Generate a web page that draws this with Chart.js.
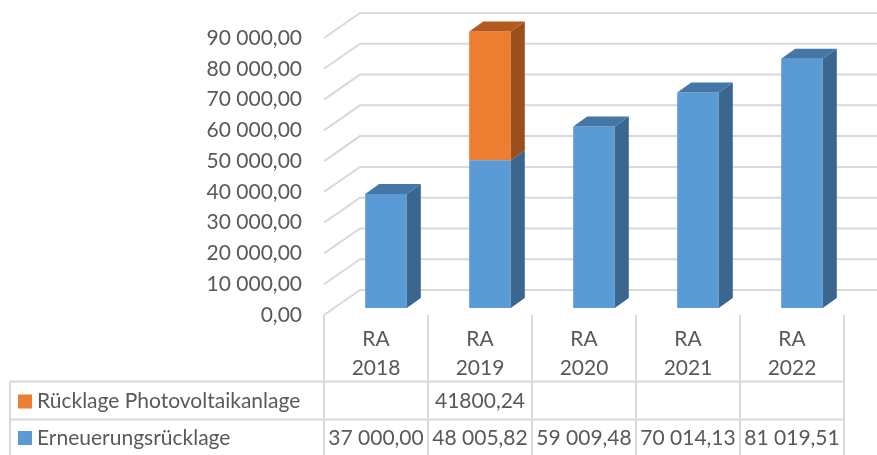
<!DOCTYPE html>
<html>
<head>
<meta charset="utf-8">
<script src="https://cdn.jsdelivr.net/npm/chart.js@4/dist/chart.umd.min.js"></script>
<style>
  body { margin: 0; background: #fff; }
  #wrap { width: 877px; height: 455px; }
</style>
</head>
<body>
<div id="wrap"><canvas id="BarChart" width="877" height="455"></canvas></div>
<script>
// data
const categories = [['RA', '2018'], ['RA', '2019'], ['RA', '2020'], ['RA', '2021'], ['RA', '2022']];
const seriesNames = ['Rücklage Photovoltaikanlage', 'Erneuerungsrücklage'];
const photovoltaik = [null, 41800.24, null, null, null];
const erneuerung = [37000.00, 48005.82, 59009.48, 70014.13, 81019.51];
const yTicks = [0, 10000, 20000, 30000, 40000, 50000, 60000, 70000, 80000, 90000];

const FONT = 'Lato, "Open Sans", sans-serif';
const TEXT = '#595959';
const GRID = '#d9d9d9';
// depth of the 3d walls / bars
const FRONT = { dx: -10, dy: 7 };
const BACK = { dx: 26, dy: -18 };
const BAR_D = { dx: 14, dy: 10 };

function fmt(v, group) {
  let s = v.toFixed(2).replace('.', ',');
  if (!group) return s;
  let parts = s.split(',');
  parts[0] = parts[0].replace(/\B(?=(\d{3})+(?!\d))/g, ' ');
  return parts.join(',');
}

const shades = {
  '#ED7D31': { side: '#9C4F1C', top: '#B55A1F' },
  '#5B9BD5': { side: '#3A6690', top: '#4577A6' }
};

const threeD = {
  id: 'threeD',
  beforeDatasetsDraw(chart) {
    const ctx = chart.ctx;
    const y = chart.scales.y;
    const area = chart.chartArea;
    ctx.save();
    ctx.strokeStyle = GRID;
    ctx.lineWidth = 2;
    yTicks.forEach(v => {
      const py = y.getPixelForValue(v);
      ctx.beginPath();
      ctx.moveTo(area.left + FRONT.dx, py + FRONT.dy);
      ctx.lineTo(area.left + BACK.dx, py + BACK.dy);
      ctx.lineTo(chart.width, py + BACK.dy);
      ctx.stroke();
    });
    ctx.restore();
  },
  afterDatasetsDraw(chart) {
    const ctx = chart.ctx;
    ctx.save();
    const n = categories.length;
    for (let i = 0; i < n; i++) {
      let topDs = -1;
      chart.data.datasets.forEach((ds, d) => { if (ds.data[i] != null) topDs = d; });
      chart.data.datasets.forEach((ds, d) => {
        if (ds.data[i] == null) return;
        const el = chart.getDatasetMeta(d).data[i];
        const l = el.x - el.width / 2, r = el.x + el.width / 2;
        const t = el.y, b = el.base;
        const c = shades[ds.backgroundColor];
        ctx.fillStyle = c.side;
        ctx.beginPath();
        ctx.moveTo(r, t); ctx.lineTo(r + BAR_D.dx, t - BAR_D.dy);
        ctx.lineTo(r + BAR_D.dx, b - BAR_D.dy); ctx.lineTo(r, b);
        ctx.closePath(); ctx.fill();
        if (d === topDs) {
          ctx.fillStyle = c.top;
          ctx.beginPath();
          ctx.moveTo(l, t); ctx.lineTo(l + BAR_D.dx, t - BAR_D.dy);
          ctx.lineTo(r + BAR_D.dx, t - BAR_D.dy); ctx.lineTo(r, t);
          ctx.closePath(); ctx.fill();
        }
      });
    }
    ctx.restore();
  },
  afterDraw(chart) {
    // data table under the x axis
    const ctx = chart.ctx;
    const x = chart.scales.x;
    const area = chart.chartArea;
    const n = categories.length;
    const cw = (x.right - x.left) / n;
    const left = x.left + FRONT.dx;
    const right = x.right + FRONT.dx;
    const floor = area.bottom + FRONT.dy;
    const row1 = 381.5, row2 = 419.5, tableLeft = 10;
    ctx.save();
    ctx.strokeStyle = GRID;
    ctx.lineWidth = 2;
    for (let i = 0; i <= n; i++) {
      const px = left + i * cw;
      ctx.beginPath(); ctx.moveTo(px, floor); ctx.lineTo(px, chart.height); ctx.stroke();
    }
    ctx.beginPath();
    ctx.moveTo(tableLeft, row1); ctx.lineTo(right, row1);
    ctx.moveTo(tableLeft, row2); ctx.lineTo(right, row2);
    ctx.moveTo(tableLeft, row1); ctx.lineTo(tableLeft, chart.height);
    ctx.stroke();

    ctx.font = '21px ' + FONT;
    ctx.fillStyle = TEXT;
    ctx.textBaseline = 'middle';
    const rows = [
      { name: seriesNames[0], color: '#ED7D31', vals: photovoltaik, group: false, cy: 401.5 },
      { name: seriesNames[1], color: '#5B9BD5', vals: erneuerung, group: true, cy: 438 }
    ];
    rows.forEach(row => {
      ctx.fillStyle = row.color;
      ctx.fillRect(18, row.cy - 7, 14, 14);
      ctx.fillStyle = TEXT;
      ctx.textAlign = 'left';
      ctx.fillText(row.name, 37, row.cy);
      ctx.textAlign = 'center';
      row.vals.forEach((v, i) => {
        if (v == null) return;
        ctx.fillText(fmt(v, row.group), left + (i + 0.5) * cw, row.cy);
      });
    });
    ctx.restore();
  }
};

const data = {
  labels: categories,
  datasets: [
    { label: seriesNames[1], data: erneuerung, backgroundColor: '#5B9BD5' },
    { label: seriesNames[0], data: photovoltaik, backgroundColor: '#ED7D31' }
  ]
};

const config = {
  type: 'bar',
  data: data,
  options: {
    responsive: false,
    animation: false,
    devicePixelRatio: 1,
    layout: { padding: { top: 31, right: 23, left: 0, bottom: 0 } },
    datasets: { bar: { barPercentage: 0.4, categoryPercentage: 1.0 } },
    plugins: { legend: { display: false }, tooltip: { enabled: false } },
    scales: {
      x: {
        stacked: true,
        grid: { display: false, drawTicks: false },
        border: { display: false },
        ticks: {
          color: TEXT,
          font: { family: FONT, size: 21, lineHeight: 1.38 },
          padding: 17,
          labelOffset: FRONT.dx,
          maxRotation: 0
        },
        afterFit(scale) { scale.height = 147; scale.paddingLeft = 0; scale.paddingRight = 0; }
      },
      y: {
        stacked: true,
        min: 0,
        max: 90000,
        grid: { display: false, drawTicks: false },
        border: { display: false },
        ticks: {
          stepSize: 10000,
          color: TEXT,
          font: { family: FONT, size: 21 },
          padding: 32,
          labelOffset: FRONT.dy,
          callback: v => fmt(v, true)
        },
        afterFit(scale) { scale.width = 334; scale.paddingTop = 0; scale.paddingBottom = 0; }
      }
    }
  },
  plugins: [threeD]
};

var myChart = new Chart(document.getElementById('BarChart'), config);
</script>
</body>
</html>
